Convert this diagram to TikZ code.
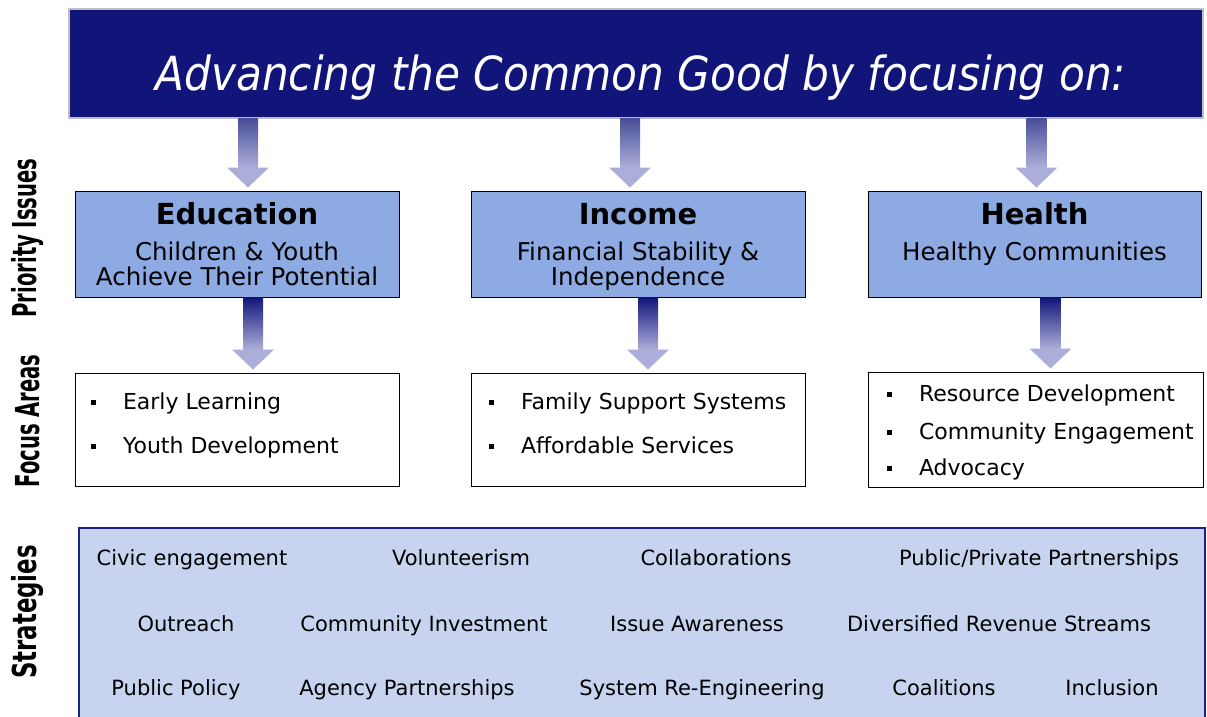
\documentclass[tikz,border=0pt]{standalone}
\usepackage{fontspec}
\setmainfont{DejaVu Sans}
\newfontfamily\condfont{DejaVu Sans Condensed}
\usetikzlibrary{calc}

\definecolor{navy}{RGB}{17,21,122}
\definecolor{priofill}{RGB}{141,170,226}
\definecolor{stratfill}{RGB}{200,212,239}
\definecolor{stratline}{RGB}{27,30,140}
\definecolor{arrowend}{RGB}{171,174,216}
\definecolor{arrowmid}{RGB}{74,79,154}

\newcommand{\blt}{\makebox[32pt][l]{\rule[5pt]{5pt}{5pt}}}
\newcommand{\sidetext}[2][0.66]{\scalebox{#1}[1]{#2}}
% fat shaded arrow: top colour, x offset, from node, to node
\newcommand{\fatdown}[4]{%
  \coordinate (s) at ($(#3.south -| #4.north)+(#2,0)$);
  \coordinate (t) at ($(#4.north)+(#2,-3)$);
  \shade[top color=#1, bottom color=arrowend] ($(s)+(-10,0)$) rectangle ($(t)+(10,-20)$);
  \fill[arrowend] ($(t)+(-21,-20)$) -- (t) -- ($(t)+(21,-20)$) -- cycle;
}

\tikzset{
  banner/.style={fill=navy, draw=black!25, line width=1.5pt, inner sep=0pt},
  priobox/.style={fill=priofill, draw=black, line width=1pt, minimum height=106pt, inner sep=0pt},
  focusbox/.style={fill=white, draw=black, line width=1pt, minimum height=113pt, inner sep=0pt},
  head/.style={font=\bfseries\fontsize{29}{30}\selectfont, anchor=base},
  sub/.style={font=\fontsize{24.5}{26}\selectfont, anchor=base},
  item/.style={font=\fontsize{22}{24}\selectfont, anchor=base west},
  strat/.style={font=\fontsize{21}{24}\selectfont, anchor=base},
  side/.style={font=\condfont\bfseries\fontsize{33}{34}\selectfont, rotate=90, inner sep=0pt},
}

\begin{document}
\begin{tikzpicture}[x=1pt,y=-1pt]
  \useasboundingbox (0,0) rectangle (1207,717);

  % banner
  \node[banner, minimum width=1134pt, minimum height=109pt] (banner) at (636,63.5) {};
  \node[font=\condfont\itshape\fontsize{47}{50}\selectfont, text=white, anchor=base] (title)
    at (641,90) {Advancing the Common Good by focusing on:};

  % side labels
  \node[side] (lprio) at (28,238) {\sidetext{Priority Issues}};
  \node[side] (lfocus) at (28,421) {\sidetext{Focus Areas}};
  \node[side] (lstrat) at (28,612) {\sidetext[0.77]{Strategies}};

  % priority issues
  \node[priobox, minimum width=324pt] (pedu) at (237,244) {};
  \node[priobox, minimum width=334pt] (pinc) at (638,244) {};
  \node[priobox, minimum width=333pt] (phea) at (1034.5,244) {};
  \node[head] at ([shift={(0,34)}]pedu.north) {Education};
  \node[sub] at ([shift={(0,70)}]pedu.north) {Children \& Youth};
  \node[sub] at ([shift={(0,95)}]pedu.north) {Achieve Their Potential};
  \node[head] at ([shift={(0,34)}]pinc.north) {Income};
  \node[sub] at ([shift={(0,70)}]pinc.north) {Financial Stability \&};
  \node[sub] at ([shift={(0,95)}]pinc.north) {Independence};
  \node[head] at ([shift={(0,34)}]phea.north) {Health};
  \node[sub] at ([shift={(0,70)}]phea.north) {Healthy Communities};

  % focus areas
  \node[focusbox, minimum width=324pt] (fedu) at (237,429.5) {};
  \node[focusbox, minimum width=334pt] (finc) at (638,429.5) {};
  \node[focusbox, minimum width=335pt, minimum height=115pt] (fhea) at (1035.5,429.5) {};
  \node[item] at ([shift={(13,37)}]fedu.north west) {\blt Early Learning};
  \node[item] at ([shift={(13,81)}]fedu.north west) {\blt Youth Development};
  \node[item] at ([shift={(15,37)}]finc.north west) {\blt Family Support Systems};
  \node[item] at ([shift={(15,81)}]finc.north west) {\blt Affordable Services};
  \node[item] at ([shift={(16,30)}]fhea.north west) {\blt Resource Development};
  \node[item] at ([shift={(16,68)}]fhea.north west) {\blt Community Engagement};
  \node[item] at ([shift={(16,104)}]fhea.north west) {\blt Advocacy};

  % arrows
  \fatdown{arrowmid}{11}{banner}{pedu}
  \fatdown{arrowmid}{-8}{banner}{pinc}
  \fatdown{arrowmid}{2}{banner}{phea}
  \fatdown{navy}{16}{pedu}{fedu}
  \fatdown{navy}{10}{pinc}{finc}
  \fatdown{navy}{15}{phea}{fhea}

  % strategies
  \node[draw=stratline, fill=stratfill, line width=2pt, minimum width=1126pt,
    minimum height=192pt, inner sep=0pt] (strat) at (642,624) {};
  \foreach \x/\y/\t in {192/565/Civic engagement, 461/565/Volunteerism,
      716/565/Collaborations, 1039/565/{Public/Private Partnerships},
      186/631/Outreach, 424/631/Community Investment,
      697/631/Issue Awareness, 999/631/Diversified Revenue Streams,
      176/695/Public Policy, 407/695/Agency Partnerships,
      702/695/System Re-Engineering, 944/695/Coalitions, 1112/695/Inclusion}
    \node[strat] at (\x,\y) {\t};
\end{tikzpicture}
\end{document}
